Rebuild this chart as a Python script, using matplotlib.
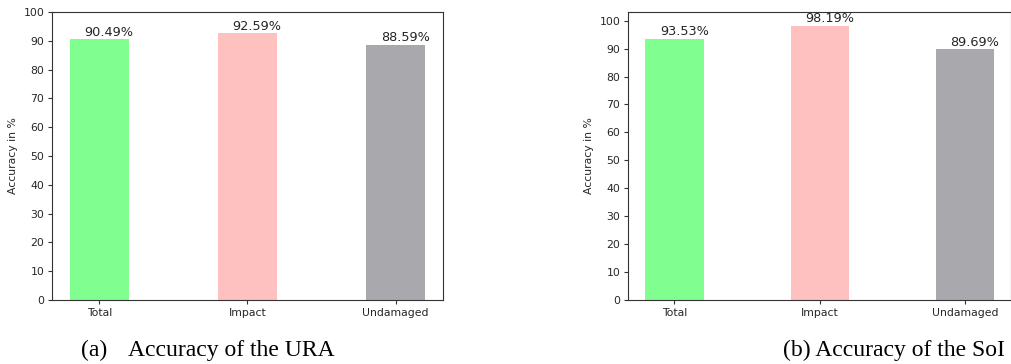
import matplotlib
matplotlib.use("Agg")
import matplotlib.pyplot as plt
import numpy as np

categories = ["Total", "Impact", "Undamaged"]
ura_acc = [90.49, 92.59, 88.59]
soi_acc = [93.53, 98.19, 89.69]
bar_colors = ["#80ff90", "#ffc0c0", "#a9a8ac"]

TEXT_C = "#262626"
plt.rcParams["font.family"] = "DejaVu Sans"
plt.rcParams["axes.edgecolor"] = "#333333"
plt.rcParams["xtick.color"] = "#333333"
plt.rcParams["ytick.color"] = "#333333"


def draw(ax, values, ylim=None):
    x = np.arange(len(categories))
    bars = ax.bar(x, values, width=0.4, color=bar_colors)
    for b, v in zip(bars, values):
        ax.text(b.get_x() + 0.1, v + 1.2, f"{v:.2f}%", ha="left",
                va="baseline", fontsize=9.3, color=TEXT_C)
    ax.set_xticks(x)
    ax.set_xticklabels(categories, fontsize=7.8, color=TEXT_C)
    ax.set_yticks(np.arange(0, 101, 10))
    ax.tick_params(axis="y", labelsize=7.8, labelcolor=TEXT_C, length=3, pad=2.5)
    ax.tick_params(axis="x", length=3, pad=2.5)
    if ylim is not None:
        ax.set_ylim(*ylim)
    ax.set_ylabel("Accuracy in %", fontsize=7.8, color=TEXT_C, labelpad=4)


fig = plt.figure(figsize=(10.12, 3.64), dpi=100)
ax1 = fig.add_axes([52 / 1012, 1 - 300 / 364, 391 / 1012, 288 / 364])
ax2 = fig.add_axes([628 / 1012, 1 - 300 / 364, 383.5 / 1012, 288 / 364])
draw(ax1, ura_acc, ylim=(0, 100))
draw(ax2, soi_acc)

serif = "Liberation Serif"
yc = 1 - 356 / 364
fig.text(81 / 1012, yc, "(a)", family=serif, fontsize=17, va="baseline")
fig.text(128 / 1012, yc, "Accuracy of the URA", family=serif, fontsize=17, va="baseline")
fig.text(783 / 1012, yc, "(b) Accuracy of the SoI", family=serif, fontsize=17, va="baseline")

fig.savefig("out.png", dpi=100)
